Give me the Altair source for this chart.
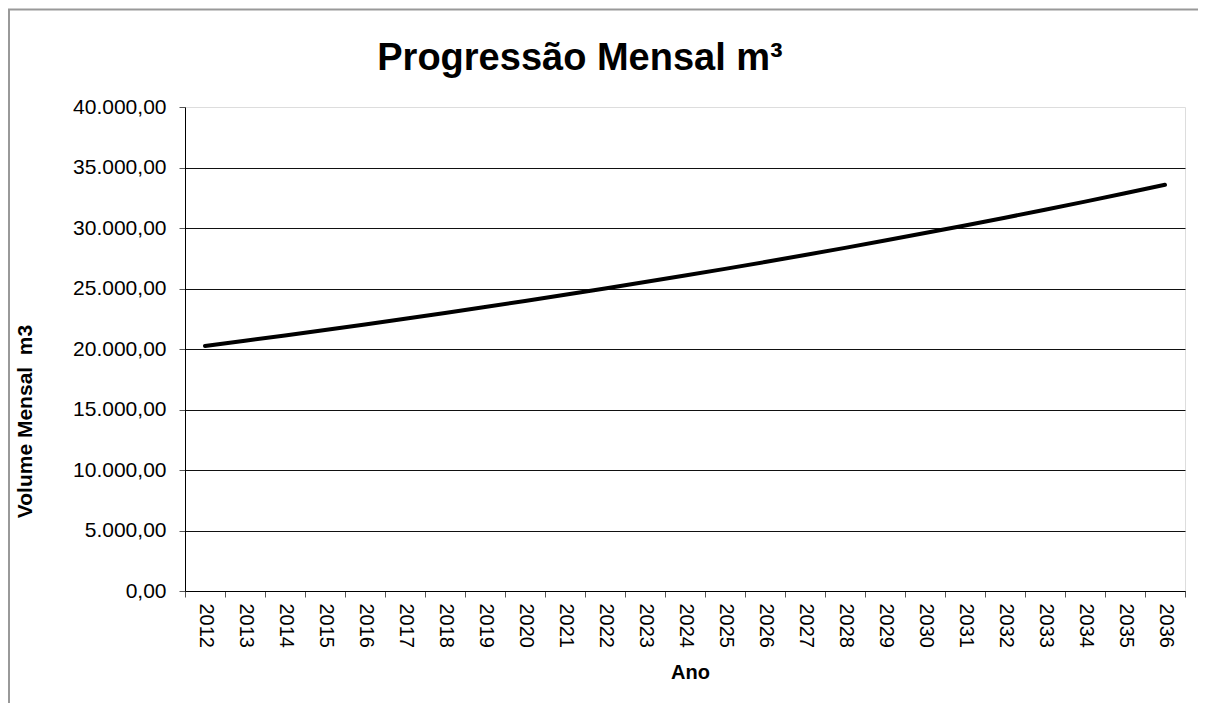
import altair as alt
import pandas as pd

years = list(range(2012, 2037))
volumes = [20250, 20680, 21120, 21570, 22030, 22500, 22980, 23470, 23970, 24480,
           25000, 25530, 26070, 26620, 27190, 27770, 28360, 28960, 29580, 30210,
           30850, 31510, 32180, 32870, 33570]
y_ticks = [0, 5000, 10000, 15000, 20000, 25000, 30000, 35000, 40000]
x_ticks = [y - 0.5 for y in years] + [years[-1] + 0.5]
title_text = "Progressão Mensal m³"

df = pd.DataFrame({"Ano": years, "Volume": volumes})

FONT = "Liberation Sans"

y_label_expr = ("replace(replace(replace(format(datum.value, ',.2f'), regexp(',', 'g'), '#'),"
                " regexp('[.]', 'g'), ','), regexp('#', 'g'), '.')")

line = alt.Chart(df).mark_line(color="black", strokeWidth=4, strokeCap="round", clip=False).encode(
    x=alt.X("Ano:Q",
            scale=alt.Scale(domain=[x_ticks[0], x_ticks[-1]], nice=False, zero=False),
            axis=alt.Axis(values=x_ticks,
                          labelExpr="datum.value > 2036 ? '' : toString(datum.value + 0.5)",
                          labelAngle=90, labelOffset=20, labelFont=FONT, labelFontSize=20,
                          labelColor="black", labelPadding=6, tickSize=6, tickColor="#555555",
                          domainColor="black", grid=False, title="Ano", titleFont=FONT,
                          titleFontSize=20, titleFontWeight="bold", titleColor="black",
                          titleX=505, titleY=81, titleBaseline="middle", titleAlign="center")),
    y=alt.Y("Volume:Q",
            scale=alt.Scale(domain=[0, 40000], nice=False),
            axis=alt.Axis(values=y_ticks, labelExpr=y_label_expr, labelFont=FONT,
                          labelFontSize=21, labelColor="black", labelPadding=13, tickSize=6,
                          tickColor="#555555", domainColor="black",
                          grid=True,
                          gridColor=alt.condition("datum.value >= 40000", alt.value("transparent"), alt.value("#111111")),
                          gridWidth=1,
                          title="Volume Mensal\u00a0 m3", titleFont=FONT, titleFontSize=21,
                          titleFontWeight="bold", titleColor="black", titleAngle=-90,
                          titleX=-160, titleY=314, titleBaseline="middle", titleAlign="center")),
)

border = alt.Chart(pd.DataFrame({"b": [0]})).mark_rect(
    fill="transparent", stroke="#999999", strokeWidth=2, clip=False
).encode(x=alt.value(-176), x2=alt.value(1030), y=alt.value(-97.5), y2=alt.value(720))

title = alt.Chart(pd.DataFrame({"t": [title_text]})).mark_text(
    font=FONT, fontSize=38, fontWeight="bold", color="black", align="center",
    baseline="alphabetic", clip=False
).encode(text="t:N", x=alt.value(395), y=alt.value(-37))

chart = alt.layer(border, line, title).properties(
    width=1000,
    height=484,
    autosize=alt.AutoSizeParams(type="none"),
    padding={"left": 177, "top": 99, "right": 13, "bottom": 112},
).configure_view(stroke="transparent").configure(background="white")

chart.save("out.html", embed_options={"renderer": "svg", "actions": False})
